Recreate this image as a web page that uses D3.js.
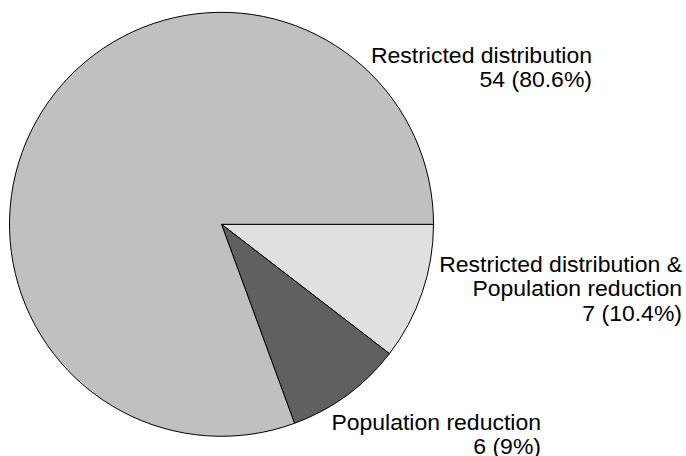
<!DOCTYPE html>
<html>
<head>
<meta charset="utf-8">
<script src="https://cdn.jsdelivr.net/npm/d3@7"></script>
<style>
  html, body { margin: 0; padding: 0; background: #fff; }
  text { font-family: "Liberation Sans", Arial, sans-serif; fill: #000; }
</style>
</head>
<body>
<div id="chart"></div>
<script>
// ── DATA ───────────────────────────────────────────────────────
const categories = ["Restricted distribution & Population reduction", "Population reduction", "Restricted distribution"];
const counts     = [7, 6, 54];
const labelLines = [
  ["Restricted distribution &", "Population reduction", "7 (10.4%)"],
  ["Population reduction", "6 (9%)"],
  ["Restricted distribution", "54 (80.6%)"]
];
const fills = ["#e0e0e0", "#606060", "#c0c0c0"];

// label anchor (right edge, first baseline) for each slice
const labelPos = [
  { x: 682, y: 272 },
  { x: 541, y: 430 },
  { x: 592, y: 62.5 }
];

// ── SVG ────────────────────────────────────────────────────────
const W = 686, H = 456;
const cx = 221.5, cy = 224.3, radius = 212;

const svg = d3.select("#chart")
  .append("svg")
    .attr("width", W)
    .attr("height", H);

// ── PIE ────────────────────────────────────────────────────────
// start at 3 o'clock and run clockwise
const pie = d3.pie()
  .sort(null)
  .value(d => d)
  .startAngle(Math.PI / 2)
  .endAngle(Math.PI / 2 + 2 * Math.PI);

const arc = d3.arc().innerRadius(0).outerRadius(radius);

const g = svg.append("g").attr("transform", `translate(${cx},${cy})`);

g.selectAll("path")
  .data(pie(counts))
  .join("path")
    .attr("d", arc)
    .attr("fill", (d, i) => fills[i])
    .attr("stroke", "#000")
    .attr("stroke-width", 1)
    .attr("stroke-linejoin", "round");

// ── LABELS ─────────────────────────────────────────────────────
const lineH = 24.5;

labelLines.forEach((lines, i) => {
  const lg = svg.append("g")
    .attr("transform", `translate(${labelPos[i].x},${labelPos[i].y}) scale(1.07,1)`);
  lg.selectAll("text")
    .data(lines)
    .join("text")
      .attr("x", 0)
      .attr("y", (d, j) => j * lineH)
      .attr("text-anchor", "end")
      .attr("font-size", "21.5px")
      .text(d => d);
});
</script>
</body>
</html>
